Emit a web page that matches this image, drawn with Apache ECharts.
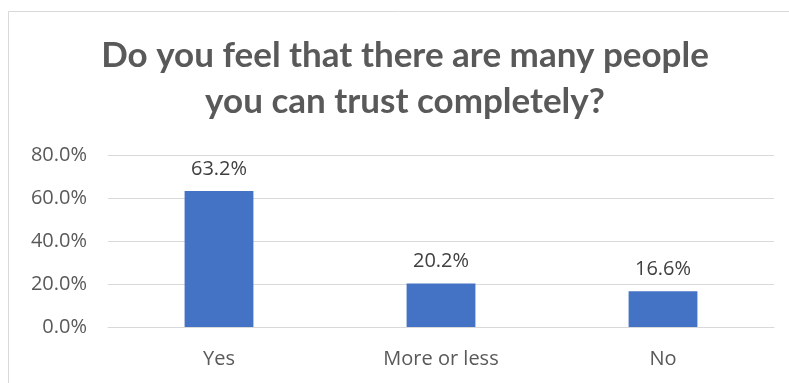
<!DOCTYPE html>
<html>
<head>
<meta charset="utf-8">
<script src="https://cdn.jsdelivr.net/npm/echarts@6/dist/echarts.min.js"></script>
<style>
  html, body { margin: 0; padding: 0; background: #ffffff; }
  #chart { width: 789px; height: 383px; }
</style>
</head>
<body>
<div id="chart"></div>
<script>
// Survey answers and their shares (percent)
const categories = ['Yes', 'More or less', 'No'];
const shares = [63.2, 20.2, 16.6];
const yTicks = { min: 0, max: 80, interval: 20 };
const titleText = 'Do you feel that there are many people\nyou can trust completely?';

const chart = echarts.init(document.getElementById('chart'), null, { renderer: 'canvas' });
const titleFont = 'Lato, "Open Sans", sans-serif';
const font = '"Open Sans", Lato, sans-serif';

chart.setOption({
  animation: false,
  backgroundColor: '#ffffff',
  graphic: [{
    type: 'rect',
    shape: { x: 8.5, y: 11.5, width: 800, height: 400 },
    style: { fill: 'none', stroke: '#d9d9d9', lineWidth: 1 },
    silent: true
  }],
  title: {
    text: titleText,
    left: 405,
    textAlign: 'center',
    top: 33,
    padding: 0,
    textStyle: {
      fontFamily: titleFont,
      fontSize: 35,
      fontWeight: 'bold',
      color: '#595959',
      lineHeight: 46
    }
  },
  grid: { left: 108, right: 15, top: 155, bottom: 56, containLabel: false },
  xAxis: {
    type: 'category',
    data: categories,
    axisTick: { show: false },
    axisLine: { show: true, lineStyle: { color: '#d9d9d9', width: 1 } },
    axisLabel: { fontFamily: font, fontSize: 20, color: '#595959', margin: 22 }
  },
  yAxis: {
    type: 'value',
    min: yTicks.min,
    max: yTicks.max,
    interval: yTicks.interval,
    axisLine: { show: false },
    axisTick: { show: false },
    splitLine: { lineStyle: { color: '#d9d9d9', width: 1 } },
    axisLabel: {
      fontFamily: font, fontSize: 20, color: '#595959', margin: 21,
      formatter: v => v.toFixed(1) + '%'
    }
  },
  series: [{
    type: 'bar',
    data: shares,
    barWidth: '31%',
    itemStyle: { color: '#4472c4' },
    label: {
      show: true,
      position: 'top',
      distance: 12,
      fontFamily: font,
      fontSize: 20,
      color: '#404040',
      formatter: p => p.value.toFixed(1) + '%'
    }
  }]
});
</script>
</body>
</html>
